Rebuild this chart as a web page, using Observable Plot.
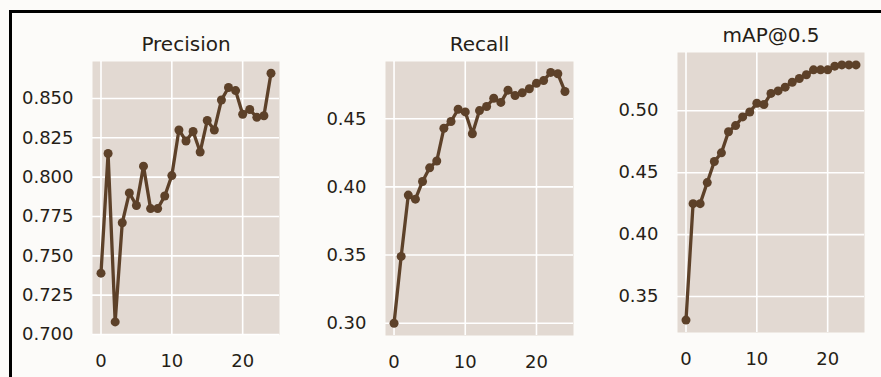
<!DOCTYPE html>
<html><head><meta charset="utf-8">
<script src="https://cdn.jsdelivr.net/npm/d3@7"></script>
<script src="https://cdn.jsdelivr.net/npm/@observablehq/plot@0.6"></script>
<style>
body{margin:0;background:#fcfbf9;}
#wrap{position:relative;width:881px;height:377px;overflow:hidden;background:#fcfbf9;}
#border{position:absolute;left:9px;top:10px;right:-10px;bottom:-10px;border-left:3px solid #000;border-top:3px solid #000;}
.panel{position:absolute;top:0;}
</style></head><body><div id="wrap"><div id="border"></div></div>
<script>
const epochs = [0,1,2,3,4,5,6,7,8,9,10,11,12,13,14,15,16,17,18,19,20,21,22,23,24];
const precision = [0.739,0.815,0.708,0.771,0.790,0.782,0.807,0.780,0.780,0.788,0.801,0.830,0.823,0.829,0.816,0.836,0.830,0.849,0.857,0.855,0.840,0.843,0.838,0.839,0.866];
const recall = [0.300,0.349,0.394,0.391,0.404,0.414,0.419,0.443,0.448,0.457,0.455,0.439,0.456,0.459,0.465,0.462,0.471,0.467,0.469,0.472,0.476,0.478,0.484,0.483,0.470];
const map50 = [0.331,0.425,0.425,0.442,0.459,0.466,0.483,0.488,0.495,0.499,0.506,0.505,0.514,0.516,0.519,0.523,0.526,0.529,0.533,0.533,0.533,0.536,0.537,0.537,0.537];
const titles = ["Precision","Recall","mAP@0.5"];
const xTicks = [0,10,20];
const precisionTicks = [0.700,0.725,0.750,0.775,0.800,0.825,0.850];
const recallTicks = [0.30,0.35,0.40,0.45];
const mapTicks = [0.35,0.40,0.45,0.50];

const FONT = "DejaVu Sans";
const TEXT = "#261e17";
const LINE = "#5d4129";
const PANEL_BG = "#e2d9d2";

function panel({values, title, yDomain, yTicks, fmt, left, width, mL, mR, mT, mB}) {
  const data = epochs.map((e, i) => ({epoch: e, v: values[i]}));
  const chart = Plot.plot({
    width, height: 377,
    marginLeft: mL, marginRight: mR, marginTop: mT, marginBottom: mB,
    style: {fontFamily: FONT, fontSize: "18px", color: TEXT, background: "transparent", overflow: "visible"},
    x: {domain: [-1.2, 25.2], ticks: xTicks, tickSize: 0, tickPadding: 20, label: null, tickFormat: d3.format("d")},
    y: {domain: yDomain, ticks: yTicks, tickSize: 0, tickPadding: 19, label: null, tickFormat: d3.format(fmt)},
    marks: [
      Plot.frame({fill: PANEL_BG, stroke: null}),
      Plot.gridX(xTicks, {stroke: "#ffffff", strokeOpacity: 1, strokeWidth: 1.6}),
      Plot.gridY(yTicks, {stroke: "#ffffff", strokeOpacity: 1, strokeWidth: 1.6}),
      Plot.line(data, {x: "epoch", y: "v", stroke: LINE, strokeWidth: 3.3}),
      Plot.dot(data, {x: "epoch", y: "v", fill: LINE, r: 4.5}),
      Plot.text([title], {frameAnchor: "top", dy: -11, lineAnchor: "bottom", fontSize: 20, fill: TEXT})
    ]
  });
  chart.classList.add("panel");
  chart.style.left = left + "px";
  document.getElementById("wrap").appendChild(chart);
}

panel({values: precision, title: titles[0], yDomain: [0.700, 0.8735], yTicks: precisionTicks, fmt: ".3f",
  left: 0, width: 290, mL: 92, mR: 11, mT: 61, mB: 43});
panel({values: recall, title: titles[1], yDomain: [0.291, 0.492], yTicks: recallTicks, fmt: ".2f",
  left: 290, width: 295, mL: 95, mR: 12, mT: 61, mB: 42});
panel({values: map50, title: titles[2], yDomain: [0.321, 0.547], yTicks: mapTicks, fmt: ".2f",
  left: 585, width: 296, mL: 92, mR: 17, mT: 52, mB: 45});
</script>
</body></html>
